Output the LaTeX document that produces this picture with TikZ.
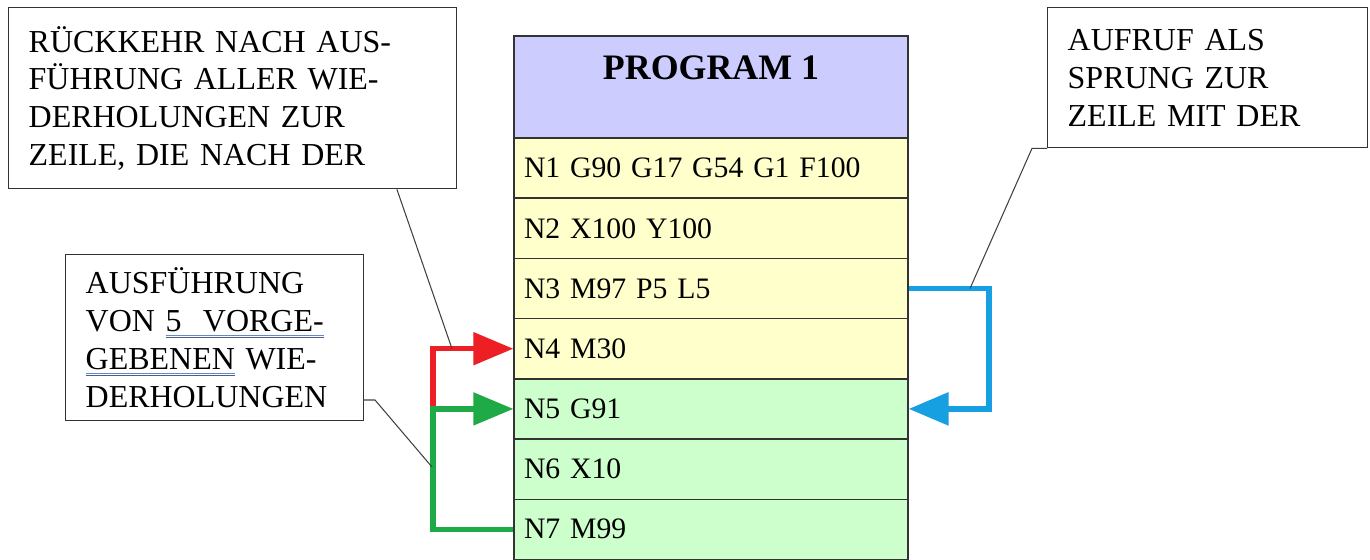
\documentclass[tikz,border=0pt]{standalone}
\usepackage{fontspec}
\setmainfont{Liberation Serif}
\usetikzlibrary{arrows.meta}

\definecolor{headblue}{RGB}{204,204,255}
\definecolor{rowyellow}{RGB}{255,255,204}
\definecolor{rowgreen}{RGB}{204,255,204}
\definecolor{arrowred}{RGB}{237,30,36}
\definecolor{arrowgreen}{RGB}{30,170,70}
\definecolor{arrowblue}{RGB}{22,160,225}
\definecolor{markblue}{RGB}{100,135,200}

% double blue marker line under a word
\newcommand{\markline}[1]{\leavevmode\setbox0\hbox{#1}%
  \rlap{\color{markblue}\rule[-2.3pt]{\wd0}{0.45pt}}%
  \rlap{\color{markblue!70!black}\rule[-3.5pt]{\wd0}{0.45pt}}\box0\relax}

\tikzset{
  head/.style={draw=black!80, line width=0.8pt, fill=headblue, minimum width=7.88cm, minimum height=2.04cm},
  row/.style={draw=black!80, line width=0.8pt, minimum width=7.88cm, minimum height=1.204cm,
    text width=7.48cm, inner xsep=0.2cm, align=left, font=\fontsize{16.9}{20}\selectfont},
  callout/.style={draw=black!80, line width=0.8pt, fill=white, anchor=north west, inner xsep=0.4cm,
    align=left, font=\fontsize{18.2}{21.5}\selectfont},
  leader/.style={draw=black!75, line width=0.6pt},
  tip/.style={-{Triangle[length=0.8cm,width=0.64cm]}},
  redarrow/.style={tip, draw=arrowred, line width=3pt},
  greenarrow/.style={tip, draw=arrowgreen, line width=3pt},
  bluearrow/.style={tip, draw=arrowblue, line width=3.4pt}
}

\begin{document}
\begin{tikzpicture}[x=0.02cm, y=-0.02cm]
    \useasboundingbox (0,0) rectangle (1370,559);
    \clip (0,0) rectangle (1370,559);

    % Program table
    \node[head] (head) at (711,87) {};
    \node[font=\bfseries\fontsize{20.4}{24}\selectfont] (title) at (711,67.5) {PROGRAM 1};
    \node[row, fill=rowyellow] (n1) at (711,168.1) {N1 G90 G17 G54 G1 F100};
    \node[row, fill=rowyellow] (n2) at (711,228.3) {N2 X100 Y100};
    \node[row, fill=rowyellow] (n3) at (711,288.5) {N3 M97 P5 L5};
    \node[row, fill=rowyellow] (n4) at (711,348.7) {N4 M30};
    \node[row, fill=rowgreen] (n5) at (711,408.9) {N5 G91};
    \node[row, fill=rowgreen] (n6) at (711,469.1) {N6 X10};
    \node[row, fill=rowgreen] (n7) at (711,529.3) {N7 M99};

    % Callout boxes
    \node[callout, minimum width=8.96cm, minimum height=3.62cm, text width=8.16cm] (box1) at (8,7)
        {RÜCKKEHR NACH AUS-\\FÜHRUNG ALLER WIE-\\DERHOLUNGEN ZUR\\ZEILE, DIE NACH DER};
    \node[callout, minimum width=5.96cm, minimum height=3.32cm, text width=5.16cm] (box2) at (65,254)
        {AUSFÜHRUNG\\VON \markline{5\ \ VORGE-}\\\markline{GEBENEN} WIE-\\DERHOLUNGEN};
    \node[callout, minimum width=6.4cm, minimum height=2.8cm, text width=5.6cm] (box3) at (1047,7)
        {AUFRUF ALS\\SPRUNG ZUR\\ZEILE MIT DER};

    % Jump arrows
    \coordinate (split) at (433,408.9);
    \draw[redarrow] (split) |- (n4.west);
    \draw[greenarrow] (n7.west) -| (split) -- (n5.west);
    \draw[bluearrow] (n3.east) -- ++(80,0) |- (n5.east);

    % Leader lines
    \coordinate (redhit) at (452,348.7);
    \coordinate (greenhit) at (432,467);
    \coordinate (bluehit) at (970,288.5);
    \coordinate (box2tap) at (363,400);
    \draw[leader] ([xshift=7.78cm]box1.south west) -- (redhit);
    \draw[leader] (box2tap) -- ++(12,0) -- (greenhit);
    \draw[leader] (box3.south west) -- ++(-15,0) -- (bluehit);
\end{tikzpicture}
\end{document}
